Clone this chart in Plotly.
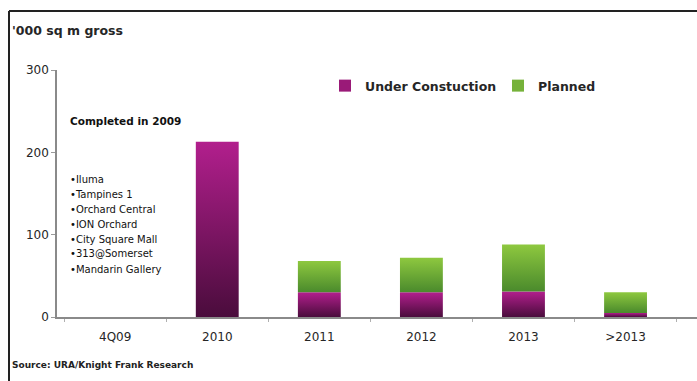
import plotly.graph_objects as go

# Retail supply pipeline, '000 sq m gross
categories = ["4Q09", "2010", "2011", "2012", "2013", ">2013"]
under_construction = [0, 213, 30, 30, 31, 5]
planned = [0, 0, 38, 42, 57, 25]
y_ticks = [0, 100, 200, 300]

completed_2009 = ["Iluma", "Tampines 1", "Orchard Central", "ION Orchard",
                  "City Square Mall", "313@Somerset", "Mandarin Gallery"]

PURPLE_SCALE = [[0, "#4a0c3c"], [1, "#b21f8d"]]
GREEN_SCALE = [[0, "#4a8a2c"], [1, "#8ec83f"]]
BAR_W = 0.42

fig = go.Figure()


def add_segment(i, lo, hi, scale, group):
    """Draw one stacked bar segment as a filled box with a vertical gradient."""
    if hi <= lo:
        return
    x0, x1 = i - BAR_W / 2, i + BAR_W / 2
    fig.add_trace(go.Scatter(
        x=[x0, x1, x1, x0, x0], y=[lo, lo, hi, hi, lo],
        mode="lines", line=dict(width=0), fill="toself",
        fillgradient=dict(type="vertical", colorscale=scale, start=lo, stop=hi),
        legendgroup=group, showlegend=False, hoverinfo="skip",
    ))


for i, (u, p) in enumerate(zip(under_construction, planned)):
    add_segment(i, 0, u, PURPLE_SCALE, "uc")
    add_segment(i, u, u + p, GREEN_SCALE, "pl")

# Legend entries
fig.add_trace(go.Scatter(x=[None], y=[None], mode="markers", name="Under Constuction",
                         marker=dict(symbol="square", size=12, color="#9a1a78"),
                         legendgroup="uc"))
fig.add_trace(go.Scatter(x=[None], y=[None], mode="markers", name="Planned",
                         marker=dict(symbol="square", size=12, color="#76b23a"),
                         legendgroup="pl"))

W, H = 697, 381
L, R, T, B = 57, 0, 70, 64
pw, ph = W - L - R, H - T - B


def px_x(x):
    return (x - L) / pw


def px_y(y):
    return (H - B - y) / ph


FONT = "DejaVu Sans, Verdana, sans-serif"
DARK = "#262626"

fig.update_layout(
    width=W, height=H,
    margin=dict(l=L, r=R, t=T, b=B),
    paper_bgcolor="white", plot_bgcolor="white",
    font=dict(family=FONT, color=DARK, size=11),
    showlegend=True,
    legend=dict(orientation="h", x=px_x(325), y=px_y(71), xanchor="left", yanchor="top",
                font=dict(size=12.5, color=DARK, weight="bold"), itemwidth=30,
                entrywidth=128, entrywidthmode="pixels",
                bgcolor="rgba(0,0,0,0)", tracegroupgap=0),
    xaxis=dict(
        range=[-0.57, 5.7], tickmode="array",
        tickvals=list(range(len(categories))), ticktext=categories,
        showline=True, linecolor="#8a8a8a", linewidth=1.5,
        ticks="", showgrid=False, zeroline=False, ticklabelstandoff=8,
        tickfont=dict(size=12, color=DARK),
        minor=dict(tick0=0.5, dtick=1, ticks="outside", ticklen=3,
                   tickcolor="#b0b0b0", showgrid=False),
    ),
    yaxis=dict(
        range=[0, 300], tickvals=y_ticks,
        showline=True, linecolor="#8a8a8a", linewidth=1.5,
        ticks="outside", ticklen=4, tickcolor="#9a9a9a",
        showgrid=False, zeroline=False,
        tickfont=dict(size=12, color=DARK),
    ),
)

# Axis unit label
fig.add_annotation(text="<b>'000 sq m gross</b>", xref="paper", yref="paper",
                   x=px_x(10), y=px_y(31), xanchor="left", yanchor="middle",
                   showarrow=False, font=dict(size=12.5, color=DARK))

# Completed in 2009 box
fig.add_annotation(text="<b>Completed in 2009</b>", xref="paper", yref="paper",
                   x=px_x(68), y=px_y(121), xanchor="left", yanchor="middle",
                   showarrow=False, font=dict(size=10.5, color="#111"))
for k, name in enumerate(completed_2009):
    fig.add_annotation(text="•" + name, xref="paper", yref="paper",
                       x=px_x(68), y=px_y(179 + 15 * k), xanchor="left", yanchor="middle",
                       showarrow=False, font=dict(size=10, color="#111"))

# Source note
fig.add_annotation(text="<b>Source: URA/Knight Frank Research</b>", xref="paper", yref="paper",
                   x=px_x(10), y=px_y(365), xanchor="left", yanchor="middle",
                   showarrow=False, font=dict(size=9, color="#222"))

# Page frame
fig.add_shape(type="line", xref="paper", yref="paper",
              x0=px_x(9), x1=px_x(W + 5), y0=px_y(11), y1=px_y(11),
              line=dict(color="#222", width=2))
fig.add_shape(type="line", xref="paper", yref="paper",
              x0=px_x(9), x1=px_x(9), y0=px_y(11), y1=px_y(H + 5),
              line=dict(color="#222", width=2))

fig.write_html("out.html")
